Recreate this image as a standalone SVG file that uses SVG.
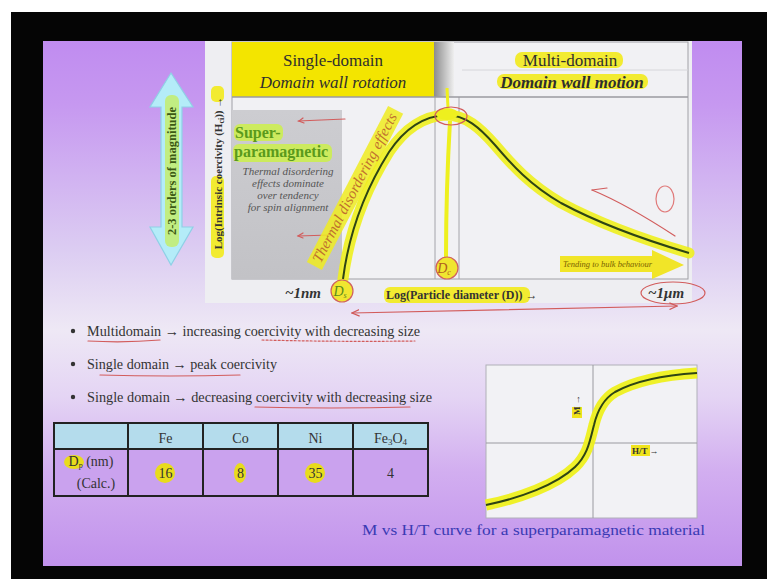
<svg xmlns="http://www.w3.org/2000/svg" width="767" height="579" viewBox="0 0 767 579">
<defs>
<linearGradient id="slideBg" x1="0" y1="0" x2="0" y2="1">
<stop offset="0" stop-color="#c08cf0"/>
<stop offset="0.12" stop-color="#c698f0"/>
<stop offset="0.40" stop-color="#dccdf2"/>
<stop offset="0.55" stop-color="#eee8f5"/>
<stop offset="0.68" stop-color="#e4d4f4"/>
<stop offset="0.82" stop-color="#d2aef0"/>
<stop offset="1" stop-color="#c192ec"/>
</linearGradient>
<linearGradient id="wallGrad" x1="0" y1="0" x2="1" y2="0">
<stop offset="0" stop-color="#8c8c8c"/>
<stop offset="1" stop-color="#efefef"/>
</linearGradient>
<linearGradient id="grayBox" x1="0" y1="0" x2="0" y2="1">
<stop offset="0" stop-color="#cdcdd1"/>
<stop offset="1" stop-color="#c2c2c6"/>
</linearGradient>
<marker id="redHead" viewBox="0 0 10 10" refX="9" refY="5" markerWidth="7" markerHeight="7" orient="auto-start-reverse">
<path d="M0,1 L9,5 L0,9" fill="none" stroke="#d05a5a" stroke-width="1.5"/>
</marker>
<style>
.serif{font-family:"Liberation Serif","Times New Roman",serif}
.hdr{font-family:"Liberation Serif","Times New Roman",serif;font-size:17px;fill:#2e2e2e;text-anchor:middle}
.bul{font-family:"Liberation Serif","Times New Roman",serif;font-size:14.5px;fill:#333}
.cell{font-family:"Liberation Serif","Times New Roman",serif;font-size:14px;fill:#333;text-anchor:middle}
.hl{fill:#f2ea1c;opacity:0.9}
.red{fill:none;stroke:#d25c5c;stroke-width:1.2;stroke-linecap:round}
.ital{font-family:"Liberation Serif","Times New Roman",serif;font-style:italic;font-size:11px;fill:#555;text-anchor:middle}
.grid{stroke:#a4a4aa;stroke-width:1;fill:none}
</style>
</defs>

<g id="background">
<rect x="0" y="0" width="767" height="579" fill="#ffffff"/>
<rect x="11" y="12" width="756" height="567" fill="#050505"/>
<rect x="43" y="41" width="699" height="525" fill="url(#slideBg)"/>
</g>

<g id="chart">
<rect x="205" y="41" width="487" height="262" fill="#eeeef2"/>
<rect x="232" y="42" width="456" height="237" fill="#f1f1f4" stroke="#a0a0a6" stroke-width="1"/>
<rect x="232" y="110" width="110" height="169" fill="url(#grayBox)"/>
<line x1="435" y1="97" x2="435" y2="279" class="grid"/>
<line x1="459" y1="97" x2="459" y2="279" class="grid"/>
</g>

<g id="header">
<rect x="232" y="42" width="202" height="55" fill="#f3e500"/>
<rect x="434" y="42" width="20" height="55" fill="url(#wallGrad)"/>
<line x1="462" y1="70" x2="688" y2="70" stroke="#d6d6da" stroke-width="1"/>
<line x1="232" y1="97" x2="688" y2="97" stroke="#9a9aa0" stroke-width="1.5"/>
<text class="hdr" x="333" y="66">Single-domain</text>
<text class="hdr" x="333" y="88" font-style="italic">Domain wall rotation</text>
<rect x="515" y="52" width="108" height="16" rx="7" class="hl"/>
<rect x="497" y="74" width="151" height="15" rx="7" class="hl"/>
<text class="hdr" x="570" y="66">Multi-domain</text>
<text class="hdr" x="572" y="88" font-style="italic" font-weight="bold" font-size="16">Domain wall motion</text>
</g>

<g id="superparamagnetic">
<rect x="234" y="124" width="49" height="17" rx="6" fill="#cdf04a" opacity="0.85"/>
<rect x="233" y="144" width="99" height="18" rx="6" fill="#cdf04a" opacity="0.85"/>
<text class="serif" x="235" y="138" font-size="16" font-weight="bold" fill="#5a9a1c">Super-</text>
<text class="serif" x="234" y="157" font-size="16" font-weight="bold" fill="#5a9a1c">paramagnetic</text>
<text class="ital" x="288" y="175">Thermal disordering</text>
<text class="ital" x="288" y="187">effects dominate</text>
<text class="ital" x="288" y="199">over tendency</text>
<text class="ital" x="288" y="211">for spin alignment</text>
<path class="red" d="M298,121 L345,119"/>
<path class="red" d="M303,118 L299,121 L304,123"/>
<path class="red" d="M298,236 L330,235"/>
<path class="red" d="M303,233 L298,236 L303,238"/>
</g>

<g id="axes-labels">
<polygon points="171,73 193,107 182,107 182,227 193,227 171,265 150,227 161,227 161,107 150,107" fill="#b4ecf8" stroke="#8fd0e6" stroke-width="1.2"/>
<rect x="165" y="95" width="14" height="152" rx="6" fill="#c6ee50" opacity="0.7"/>
<text class="serif" transform="translate(176,171) rotate(-90)" text-anchor="middle" font-size="12.5" font-weight="bold" fill="#3c5a14">2-3 orders of magnitude</text>
<rect x="211" y="176" width="13" height="82" rx="5" class="hl"/>
<rect x="211" y="86" width="13" height="16" rx="5" class="hl"/>
<text class="serif" transform="translate(222,173) rotate(-90)" text-anchor="middle" font-size="11" font-weight="bold" fill="#333">Log(Intrinsic coercivity (H<tspan font-size="8" dy="2">ci</tspan><tspan dy="-2">)) →</tspan></text>
<rect x="384" y="287" width="146" height="16" rx="6" class="hl"/>
<text class="serif" x="386" y="299" font-size="12" font-weight="bold" fill="#333">Log(Particle diameter (D)) →</text>
<text class="serif" x="321" y="298" text-anchor="end" font-size="15" font-weight="bold" font-style="italic" fill="#333">~1nm</text>
<text class="serif" x="648" y="298" font-size="15" font-weight="bold" font-style="italic" fill="#333">~1μm</text>
</g>

<g id="curve">
<path d="M343,279 C348,240 362,195 389,152 C405,128 425,116 446,115 C466,115 480,128 495,145 C512,165 530,185 561,203 C600,224 645,240 689,253" fill="none" stroke="#eef01e" stroke-width="11" stroke-linecap="round" opacity="0.9"/>
<path d="M343,279 C348,240 362,195 389,152 C405,128 425,116 446,115 C466,115 480,128 495,145 C512,165 530,185 561,203 C600,224 645,240 689,253" fill="none" stroke="#2e4414" stroke-width="2"/>
<g transform="translate(359,190) rotate(-62.5)">
<rect x="-88" y="-13" width="176" height="17" fill="#f0ec20" opacity="0.85"/>
<text class="serif" x="0" y="0" text-anchor="middle" font-size="15" font-style="italic" fill="#c0702e">Thermal disordering effects</text>
</g>
<path d="M447,88 L448,108" stroke="#eef01e" stroke-width="3" fill="none"/>
<ellipse cx="447" cy="114" rx="11" ry="6" fill="#eef01e"/>
<path d="M450,121 Q446,190 446,258" stroke="#eef01e" stroke-width="4" fill="none"/>
<ellipse cx="451" cy="116" rx="16" ry="9" class="red"/>
</g>

<g id="d-labels">
<circle cx="447" cy="268" r="11" fill="#f0e630" stroke="#d06060" stroke-width="1.2"/>
<text class="serif" x="444" y="273" text-anchor="middle" font-size="14" font-style="italic" fill="#b0601e">D<tspan font-size="8" dy="2">c</tspan></text>
<ellipse cx="342" cy="291" rx="11" ry="11" fill="#f0e630" stroke="#d06060" stroke-width="1.2"/>
<text class="serif" x="340" y="296" text-anchor="middle" font-size="14" font-style="italic" fill="#5a8a1c">D<tspan font-size="8" dy="2">s</tspan></text>
</g>

<g id="bulk-arrow">
<polygon points="560,256 652,256 652,250 684,265 652,279 652,272 560,272" fill="#f0e41c" opacity="0.95"/>
<text class="serif" x="563" y="267" font-size="8.5" font-style="italic" fill="#7a6200">Tending to bulk behaviour</text>
</g>

<g id="annotations">
<ellipse cx="673" cy="293" rx="32" ry="11" class="red"/>
<line x1="352" y1="313" x2="677" y2="306" class="red" marker-start="url(#redHead)" marker-end="url(#redHead)"/>
<path class="red" d="M592,190 Q626,204 675,236"/>
<path class="red" d="M592,190 L607,188"/>
<ellipse cx="665" cy="199" rx="9" ry="13" stroke="#e07a7a" stroke-width="1.2" fill="none"/>
</g>

<g id="bullets">
<circle cx="73" cy="331" r="2.2" fill="#333"/>
<text class="bul" x="87" y="336" textLength="333" lengthAdjust="spacingAndGlyphs">Multidomain → increasing coercivity with decreasing size</text>
<circle cx="73" cy="364" r="2.2" fill="#333"/>
<text class="bul" x="87" y="369" textLength="190" lengthAdjust="spacingAndGlyphs">Single domain → peak coercivity</text>
<circle cx="73" cy="397" r="2.2" fill="#333"/>
<text class="bul" x="87" y="402" textLength="345" lengthAdjust="spacingAndGlyphs">Single domain → decreasing coercivity with decreasing size</text>
<path class="red" d="M88,341 Q125,343 160,340"/>
<path class="red" d="M262,340 Q340,342 415,341" stroke-dasharray="2 2"/>
<path class="red" d="M100,375 Q170,377 240,375"/>
<path class="red" d="M255,407 Q330,409 410,407"/>
</g>

<g id="table">
<rect x="54" y="423" width="374" height="26" fill="#b4dcec"/>
<rect x="54" y="449" width="374" height="47" fill="#caa2ee"/>
<rect x="54" y="423" width="374" height="73" fill="none" stroke="#222" stroke-width="2"/>
<line x1="54" y1="449" x2="428" y2="449" stroke="#222" stroke-width="2"/>
<line x1="128" y1="423" x2="128" y2="496" stroke="#222" stroke-width="2"/>
<line x1="203" y1="423" x2="203" y2="496" stroke="#222" stroke-width="2"/>
<line x1="278" y1="423" x2="278" y2="496" stroke="#222" stroke-width="2"/>
<line x1="353" y1="423" x2="353" y2="496" stroke="#222" stroke-width="2"/>
<text class="cell" x="165.5" y="443">Fe</text>
<text class="cell" x="240.5" y="443">Co</text>
<text class="cell" x="315.5" y="443">Ni</text>
<text class="cell" x="390.5" y="443">Fe<tspan font-size="9" dy="2">3</tspan><tspan dy="-2">O</tspan><tspan font-size="9" dy="2">4</tspan></text>
<ellipse cx="74" cy="462" rx="10" ry="7" fill="#e8dc1c"/>
<ellipse cx="165" cy="473" rx="10" ry="10" fill="#e8dc1c"/>
<ellipse cx="240" cy="473" rx="6" ry="10" fill="#e8dc1c"/>
<ellipse cx="315" cy="473" rx="10" ry="10" fill="#e8dc1c"/>
<text class="cell" x="91" y="466" font-size="13">D<tspan font-size="8" dy="2">p</tspan><tspan dy="-2"> (nm)</tspan></text>
<text class="cell" x="96" y="488">(Calc.)</text>
<text class="cell" x="165.5" y="478">16</text>
<text class="cell" x="240.5" y="478">8</text>
<text class="cell" x="315.5" y="478">35</text>
<text class="cell" x="390.5" y="478">4</text>
</g>

<g id="mh-plot">
<rect x="486" y="365" width="211" height="153" fill="#f2f2f5" stroke="#b0b0b8" stroke-width="1"/>
<line x1="593" y1="365" x2="593" y2="518" stroke="#9a9aa0" stroke-width="1"/>
<line x1="486" y1="443" x2="697" y2="443" stroke="#9a9aa0" stroke-width="1"/>
<path d="M486,505 C520,498 556,485 575,467 C588,455 590,440 594,425 C598,408 605,398 615,392 C635,381 665,375 697,373" fill="none" stroke="#eef01e" stroke-width="11" opacity="0.95"/>
<path d="M486,505 C520,498 556,485 575,467 C588,455 590,440 594,425 C598,408 605,398 615,392 C635,381 665,375 697,373" fill="none" stroke="#2e4414" stroke-width="2"/>
<rect x="572" y="407" width="10" height="11" fill="#f0e41c"/>
<text class="serif" transform="translate(580,405) rotate(-90)" text-anchor="middle" font-size="9" font-weight="bold" fill="#333">M →</text>
<rect x="631" y="445" width="19" height="11" fill="#f0e41c"/>
<text class="serif" x="632" y="454" font-size="9" font-weight="bold" fill="#333">H/T →</text>
</g>

<g id="caption">
<text class="serif" x="362" y="535" font-size="15" fill="#3a3ab4" textLength="343" lengthAdjust="spacingAndGlyphs">M vs H/T curve for a superparamagnetic material</text>
</g>
</svg>
